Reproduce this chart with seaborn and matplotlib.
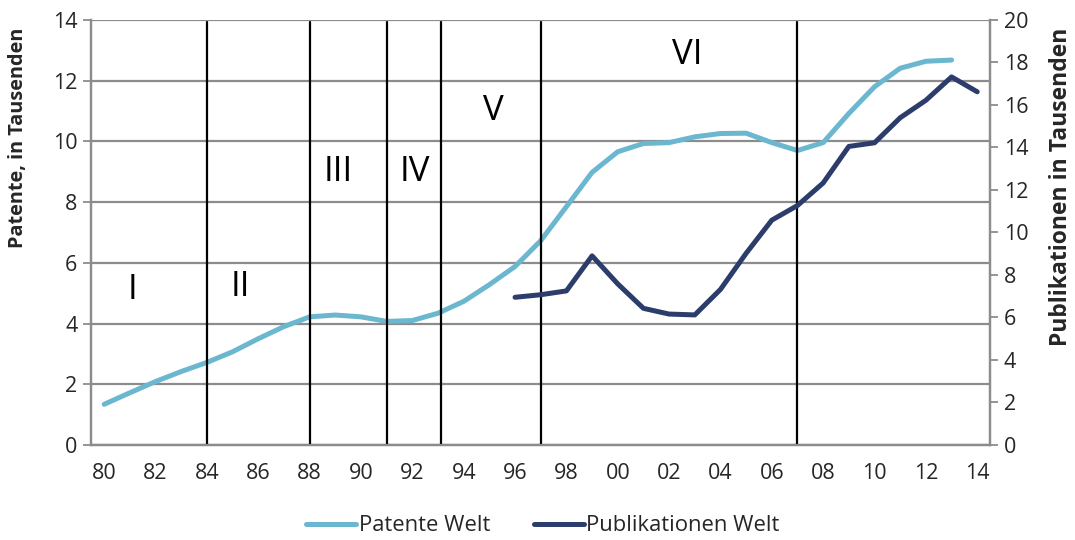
import numpy as np
import pandas as pd
import matplotlib
matplotlib.use("Agg")
import matplotlib.pyplot as plt
import seaborn as sns

# data
jahre = list(range(1980, 2015))
patente = [1.34, 1.72, 2.09, 2.42, 2.72, 3.07, 3.50, 3.90, 4.22, 4.28, 4.22, 4.07, 4.10, 4.34,
           4.73, 5.28, 5.88, 6.73, 7.85, 8.98, 9.66, 9.93, 9.96, 10.15, 10.26, 10.27, 9.96, 9.70,
           9.96, 10.92, 11.80, 12.41, 12.64, 12.68, np.nan]
pub_jahre = list(range(1996, 2015))
publikationen = [6.95, 7.07, 7.25, 8.90, 7.58, 6.43, 6.16, 6.12, 7.32, 9.02, 10.58, 11.27,
                 12.33, 14.05, 14.22, 15.40, 16.22, 17.32, 16.62]
phasen_grenzen = [1984, 1988, 1991, 1993.1, 1997, 2007]
phasen_namen = ["I", "II", "III", "IV", "V", "VI"]
phasen_x = [1981.1, 1985.3, 1989.1, 1992.1, 1995.15, 2002.7]
phasen_y = [5.1, 5.2, 9.0, 9.0, 11.0, 12.85]

df_pat = pd.DataFrame({"jahr": jahre, "wert": patente})
df_pub = pd.DataFrame({"jahr": pub_jahre, "wert": publikationen})

sns.set_style("white")
plt.rcParams["font.family"] = ["Open Sans", "DejaVu Sans"]

hell = "#6cb7d0"
dunkel = "#2d3d6b"
grau = "#8c8c8c"

fig, ax = plt.subplots(figsize=(10.75, 5.4), dpi=100)
fig.subplots_adjust(left=0.085, right=0.921, top=0.963, bottom=0.176)
ax2 = ax.twinx()

sns.lineplot(data=df_pat, x="jahr", y="wert", ax=ax, color=hell, linewidth=3.6,
             label="Patente Welt", legend=False, solid_capstyle="round")
sns.lineplot(data=df_pub, x="jahr", y="wert", ax=ax2, color=dunkel, linewidth=3.6,
             label="Publikationen Welt", legend=False, solid_capstyle="round")

ax.set_xlim(1979.5, 2014.5)
ax.set_ylim(0, 14)
ax2.set_ylim(0, 20)
ax.set_yticks(np.arange(0, 15, 2))
ax2.set_yticks(np.arange(0, 21, 2))
ax.set_xticks(range(1980, 2015, 2))
ax.set_xticklabels([f"{j % 100:02d}" for j in range(1980, 2015, 2)])
ax.set_xticks(np.arange(1979.5, 2015, 1), minor=True)

ax.grid(axis="y", color=grau, linewidth=1.6)
ax.set_axisbelow(True)
for a in (ax, ax2):
    for s in a.spines.values():
        s.set_color(grau)
        s.set_linewidth(1.6)
    a.spines["top"].set_visible(False)
ax.tick_params(axis="x", which="major", length=0, labelsize=15.5, pad=13)
ax.tick_params(axis="x", which="minor", length=7, color=grau, width=1.3, direction="out")
ax.tick_params(axis="y", length=6, color=grau, width=1.3, labelsize=15.5, pad=4)
ax2.tick_params(axis="y", length=6, color=grau, width=1.3, labelsize=15.5, pad=4)

for g in phasen_grenzen:
    ax.axvline(g, ymin=-0.005, ymax=0.995, color="black", linewidth=1.6, zorder=5)
for name, px, py in zip(phasen_namen, phasen_x, phasen_y):
    ax.text(px, py, name, ha="center", va="center", fontsize=25, color="black", zorder=6)

ax.set_xlabel("")
ax.set_ylabel("Patente, in Tausenden", fontsize=14.3, fontweight="bold")
ax2.set_ylabel("Publikationen in Tausenden", fontsize=16.5, fontweight="bold")
ax.yaxis.set_label_coords(-0.071, 0.722)
ax2.yaxis.set_label_coords(1.066, 0.607)

h1, l1 = ax.get_legend_handles_labels()
h2, l2 = ax2.get_legend_handles_labels()
fig.legend(h1 + h2, l1 + l2, loc="lower center", ncol=2, frameon=False, fontsize=15.8,
           bbox_to_anchor=(0.505, -0.03), handlelength=2.3, columnspacing=2.0, handletextpad=0.1)

fig.savefig("out.png", dpi=100)
